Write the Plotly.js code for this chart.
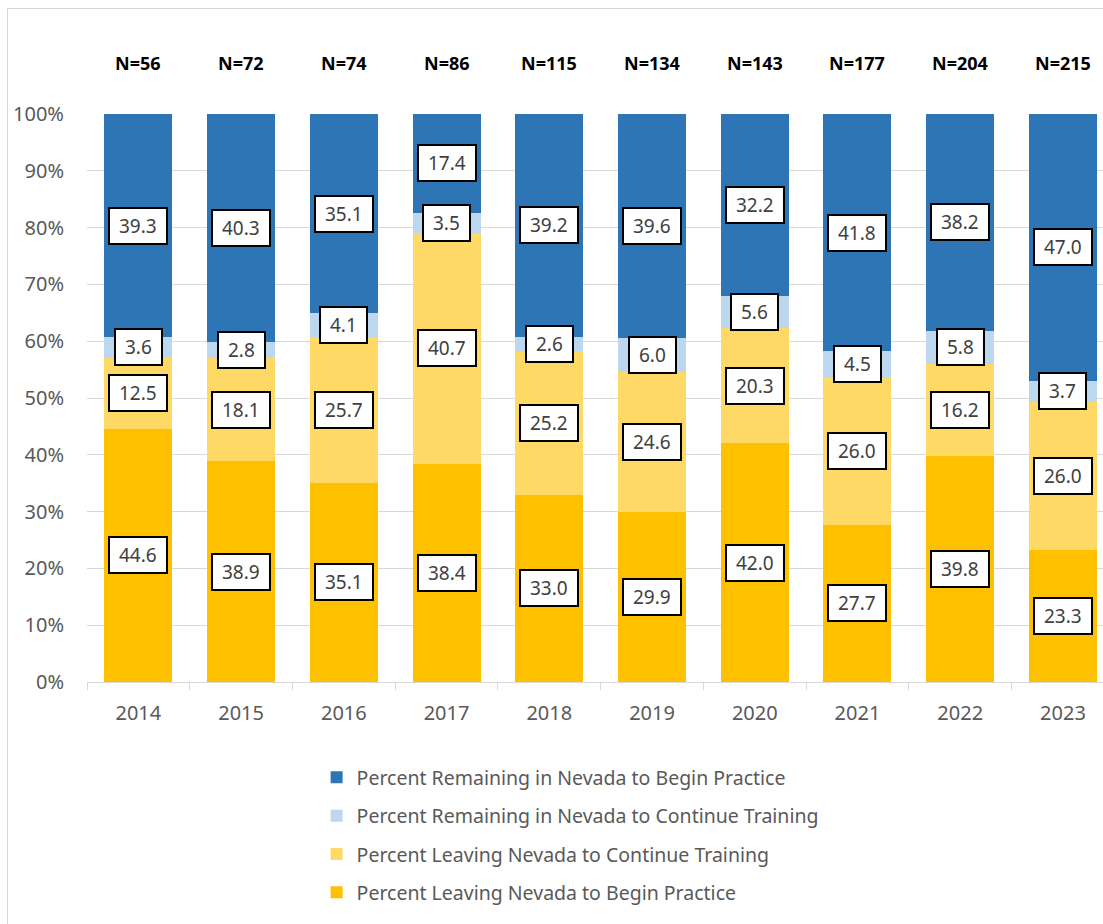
<!DOCTYPE html>
<html>
<head>
<meta charset="utf-8">
<script src="https://cdn.plot.ly/plotly-3.0.1.min.js"></script>
<style>
  html, body { margin: 0; padding: 0; background: #fff; overflow: hidden; }
  #wrap { position: relative; width: 1103px; height: 924px; }
  #frame { position: absolute; left: 7px; top: 8px; width: 1110px; height: 930px; border: 1px solid #d9d9d9; pointer-events: none; }
  #chart { position: absolute; left: 0; top: 0; width: 1103px; height: 924px; }
</style>
</head>
<body>
<div id="wrap">
  <div id="chart"></div>
  <div id="frame"></div>
</div>
<script>
const years = ["2014","2015","2016","2017","2018","2019","2020","2021","2022","2023"];
const nLabels = ["N=56","N=72","N=74","N=86","N=115","N=134","N=143","N=177","N=204","N=215"];
const leavingBegin     = [44.6, 38.9, 35.1, 38.4, 33.0, 29.9, 42.0, 27.7, 39.8, 23.3];
const leavingContinue  = [12.5, 18.1, 25.7, 40.7, 25.2, 24.6, 20.3, 26.0, 16.2, 26.0];
const remainContinue   = [3.6, 2.8, 4.1, 3.5, 2.6, 6.0, 5.6, 4.5, 5.8, 3.7];
const remainBegin      = [39.3, 40.3, 35.1, 17.4, 39.2, 39.6, 32.2, 41.8, 38.2, 47.0];

const seriesNames = [
  "Percent Leaving Nevada to Begin Practice",
  "Percent Leaving Nevada to Continue Training",
  "Percent Remaining in Nevada to Continue Training",
  "Percent Remaining in Nevada to Begin Practice"
];
const seriesVals = [leavingBegin, leavingContinue, remainContinue, remainBegin];
const seriesColors = ["#FFC000", "#FFD966", "#BDD7EE", "#2E75B6"];

const FONT = "Noto Sans";

const traces = seriesVals.map((vals, i) => ({
  type: "bar",
  x: years,
  y: vals,
  name: seriesNames[i],
  legendgroup: "g" + i,
  legendrank: 10 - i,
  marker: { color: seriesColors[i] }
}));

const annotations = [];
const cum = years.map(() => 0);
const pad = "\u00A0";
seriesVals.forEach(vals => {
  vals.forEach((v, j) => {
    annotations.push({
      x: j, y: cum[j] + v / 2, xref: "x", yref: "y",
      text: pad + v.toFixed(1) + pad, showarrow: false,
      font: { family: FONT, size: 19, color: "#404040" },
      bgcolor: "#ffffff", bordercolor: "#000000", borderwidth: 2, borderpad: 4
    });
    cum[j] += v;
  });
});
nLabels.forEach((t, j) => {
  annotations.push({
    x: j, y: 1.09, xref: "x", yref: "paper",
    text: "<b>" + t + "</b>", showarrow: false, yanchor: "middle",
    font: { family: FONT, size: 18, color: "#000000" }
  });
});

const layout = {
  width: 1103, height: 924,
  margin: { l: 87, r: 0, t: 114, b: 242, pad: 0 },
  paper_bgcolor: "#ffffff", plot_bgcolor: "#ffffff",
  barmode: "stack",
  bargap: 0.338,
  font: { family: FONT, color: "#595959" },
  xaxis: {
    type: "category",
    range: [-0.5, 9.39],
    showgrid: false,
    showline: true, linecolor: "#d9d9d9", linewidth: 1,
    ticks: "outside", tickson: "boundaries", ticklen: 7, tickcolor: "#d9d9d9",
    tickfont: { family: FONT, size: 20, color: "#595959" },
    ticklabelstandoff: 13
  },
  yaxis: {
    range: [0, 100],
    dtick: 10,
    ticksuffix: "%",
    showgrid: true, gridcolor: "#d9d9d9", gridwidth: 1,
    zeroline: false, showline: false,
    tickfont: { family: FONT, size: 20, color: "#595959" },
    ticklabelstandoff: 22
  },
  showlegend: true,
  legend: {
    orientation: "v",
    traceorder: "grouped",
    tracegroupgap: 10,
    x: 0.226, xanchor: "left",
    y: -0.134, yanchor: "top",
    font: { family: FONT, size: 19.5, color: "#595959" }
  },
  annotations: annotations
};

Plotly.newPlot("chart", traces, layout, { displayModeBar: false });
</script>
</body>
</html>
